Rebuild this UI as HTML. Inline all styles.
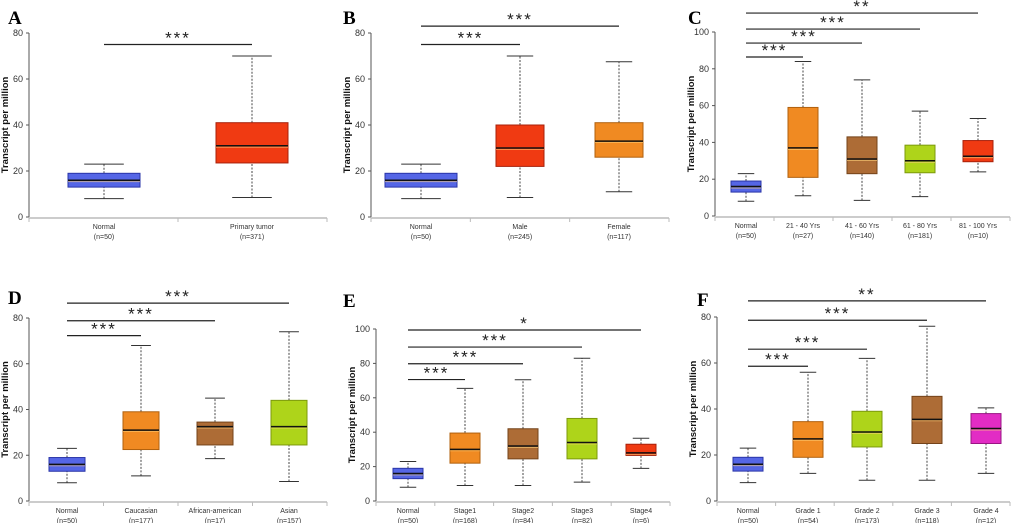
<!DOCTYPE html>
<html><head><meta charset="utf-8">
<style>
html,body{margin:0;padding:0;background:#fff;}
svg{display:block;font-family:"Liberation Sans",sans-serif;}
</style></head>
<body>
<svg id="fig" width="1020" height="523" viewBox="0 0 1020 523"></svg>
<script>
// ---- Data ----
const panelLetters = ["A","B","C","D","E","F"];
const catsA = ["Normal","Primary tumor"];
const nA = ["50","371"];
const statsA = [[8,13,16,19,23],[8.5,23.5,31,41,70]];
const sigA = [[0,1,75,"***"]];

const catsB = ["Normal","Male","Female"];
const nB = ["50","245","117"];
const statsB = [[8,13,16,19,23],[8.5,22,30,40,70],[11,26,33,41,67.5]];
const sigB = [[0,1,75,"***"],[0,2,83,"***"]];

const catsC = ["Normal","21 - 40 Yrs","41 - 60 Yrs","61 - 80 Yrs","81 - 100 Yrs"];
const nC = ["50","27","140","181","10"];
const statsC = [[8,13,16,19,23],[11,21,37,59,84],[8.5,23,31,43,74],[10.5,23.5,30,38.5,57],[24,29.5,32.5,41,53]];
const sigC = [[0,1,86.4,"***"],[0,2,94,"***"],[0,3,101.6,"***"],[0,4,110.3,"**"]];

const catsD = ["Normal","Caucasian","African-american","Asian"];
const nD = ["50","177","17","157"];
const statsD = [[8,13,16,19,23],[11,22.5,31,39,68],[18.5,24.5,32.5,34.5,45],[8.5,24.5,32.5,44,74]];
const sigD = [[0,1,72.3,"***"],[0,2,78.8,"***"],[0,3,86.5,"***"]];

const catsE = ["Normal","Stage1","Stage2","Stage3","Stage4"];
const nE = ["50","168","84","82","6"];
const statsE = [[8,13,16,19,23],[9,22,30,39.5,65.5],[9,24.5,32,42,70.5],[11,24.5,34,48,83],[19,26.5,28,33,36.5]];
const sigE = [[0,1,70.6,"***"],[0,2,79.8,"***"],[0,3,89.5,"***"],[0,4,99.4,"*"]];

const catsF = ["Normal","Grade 1","Grade 2","Grade 3","Grade 4"];
const nF = ["50","54","173","118","12"];
const statsF = [[8,13,16,19,23],[12,19,27,34.5,56],[9,23.5,30,39,62],[9,25,35.5,45.5,76],[12,25,31.5,38,40.5]];
const sigF = [[0,1,58.6,"***"],[0,2,66,"***"],[0,3,78.6,"***"],[0,4,87,"**"]];

// ---- Styling / layout (not data) ----
const COL = {blue:["#5566e6","#2a35a8"],red:["#f03a12","#a8200a"],orange:["#f08a22","#b0600e"],
  brown:["#ad6c36","#74431a"],lime:["#aed41a","#7c9a0c"],mag:["#e22cc4","#9a1484"]};
const panels = [
 {L:"A",cats:catsA,n:nA,stats:statsA,sig:sigA,cols:["blue","red"],x0:29,x1:327,yT:33,y0:217,max:80,centers:[104,252],hw:36,lx:8,ly:24},
 {L:"B",cats:catsB,n:nB,stats:statsB,sig:sigB,cols:["blue","red","orange"],x0:371,x1:669,yT:33,y0:217,max:80,centers:[421,520,619],hw:24,lx:343,ly:24},
 {L:"C",cats:catsC,n:nC,stats:statsC,sig:sigC,cols:["blue","orange","brown","lime","red"],x0:715,x1:1010,yT:32,y0:216,max:100,centers:[746,803,862,920,978],hw:15,lx:688,ly:24},
 {L:"D",cats:catsD,n:nD,stats:statsD,sig:sigD,cols:["blue","orange","brown","lime"],x0:29,x1:327,yT:318,y0:501,max:80,centers:[67,141,215,289],hw:18,lx:8,ly:304},
 {L:"E",cats:catsE,n:nE,stats:statsE,sig:sigE,cols:["blue","orange","brown","lime","red"],x0:376,x1:670,yT:329,y0:501,max:100,centers:[408,465,523,582,641],hw:15,lx:343,ly:307},
 {L:"F",cats:catsF,n:nF,stats:statsF,sig:sigF,cols:["blue","orange","lime","brown","mag"],x0:717,x1:1010,yT:317,y0:501,max:80,centers:[748,808,867,927,986],hw:15,lx:697,ly:306}
];
const NS="http://www.w3.org/2000/svg";
const svg=document.getElementById("fig");
function mk(tag,attrs,parent,txt){const e=document.createElementNS(NS,tag);for(const k in attrs)e.setAttribute(k,attrs[k]);if(txt!==undefined)e.textContent=txt;(parent||svg).appendChild(e);return e;}

panels.forEach(p=>{
  const g=mk("g",{});
  
  
  const ys=v=>p.y0-(v/p.max)*(p.y0-p.yT);
  // letter
  const lt=mk("text",{x:p.lx,y:p.ly,"font-family":"Liberation Serif,serif","font-weight":"bold","font-size":"19"},g,p.L);
  
  
  // y axis
  const ya=mk("line",{x1:p.x0,y1:p.yT,x2:p.x0,y2:p.y0,stroke:"#555","stroke-width":1},g);
  
  
  const step=20;
  for(let v=0;v<=p.max;v+=step){
    mk("line",{x1:p.x0-3,y1:ys(v),x2:p.x0,y2:ys(v),stroke:"#555"},g);
    const t=mk("text",{x:p.x0-6,y:ys(v)+3,"text-anchor":"end","font-size":"9",fill:"#333"},g,String(v));
    
    
  }
  const yt=mk("text",{x:0,y:0,transform:`translate(${p.x0-21},${(p.yT+p.y0)/2}) rotate(-90)`,"text-anchor":"middle","font-size":"9.5","font-weight":"bold",fill:"#111"},g,"Transcript per million");
  
  
  // x axis
  const xa=mk("line",{x1:p.x0,y1:p.y0+1,x2:p.x1,y2:p.y0+1,stroke:"#999","stroke-width":1},g);
  
  
  const nc=p.cats.length, seg=(p.x1-p.x0)/nc;
  for(let i=0;i<=nc;i++){mk("line",{x1:p.x0+seg*i,y1:p.y0+1,x2:p.x0+seg*i,y2:p.y0+5,stroke:"#bbb"},g);}
  p.cats.forEach((c,i)=>{
    const cx=p.centers[i];
    const t1=mk("text",{x:cx,y:p.y0+12,"text-anchor":"middle","font-size":"7",fill:"#333"},g,c);
    
    
    const t2=mk("text",{x:cx,y:p.y0+22,"text-anchor":"middle","font-size":"7",fill:"#333"},g,"(n="+p.n[i]+")");
    
    
    // box
    const s=p.stats[i]; const col=COL[p.cols[i]];
    const hw=(i===0 && p.hw>20)?36:p.hw, cw=hw*0.55;
    const bg=mk("g",{},g);
    
    
    mk("line",{x1:cx,y1:ys(s[0]),x2:cx,y2:ys(s[1]),stroke:"#444","stroke-dasharray":"2,1.5","stroke-width":1},bg);
    mk("line",{x1:cx,y1:ys(s[3]),x2:cx,y2:ys(s[4]),stroke:"#444","stroke-dasharray":"2,1.5","stroke-width":1},bg);
    mk("line",{x1:cx-cw,y1:ys(s[0]),x2:cx+cw,y2:ys(s[0]),stroke:"#333","stroke-width":1},bg);
    mk("line",{x1:cx-cw,y1:ys(s[4]),x2:cx+cw,y2:ys(s[4]),stroke:"#333","stroke-width":1},bg);
    mk("rect",{x:cx-hw,y:ys(s[3]),width:hw*2,height:ys(s[1])-ys(s[3]),fill:col[0],stroke:col[1],"stroke-width":1},bg);
    mk("line",{x1:cx-hw,y1:ys(s[2])+1.5,x2:cx+hw,y2:ys(s[2])+1.5,stroke:"#ffd27a","stroke-width":0.8,opacity:0.7},bg);
    mk("line",{x1:cx-hw,y1:ys(s[2]),x2:cx+hw,y2:ys(s[2]),stroke:"#111","stroke-width":1.5},bg);
  });
  // significance
  p.sig.forEach(sg=>{
    const xa1=p.centers[sg[0]], xa2=p.centers[sg[1]], y=ys(sg[2]);
    const sl=mk("line",{x1:xa1,y1:y,x2:xa2,y2:y,stroke:"#222","stroke-width":1.2},g);
    
    
    const st=mk("text",{x:(xa1+xa2)/2,y:y-1,"text-anchor":"middle","font-size":"17","font-family":"Liberation Sans,sans-serif",fill:"#222","letter-spacing":"2"},g,sg[3]);
    
    
  });
});
</script>
</body></html>
